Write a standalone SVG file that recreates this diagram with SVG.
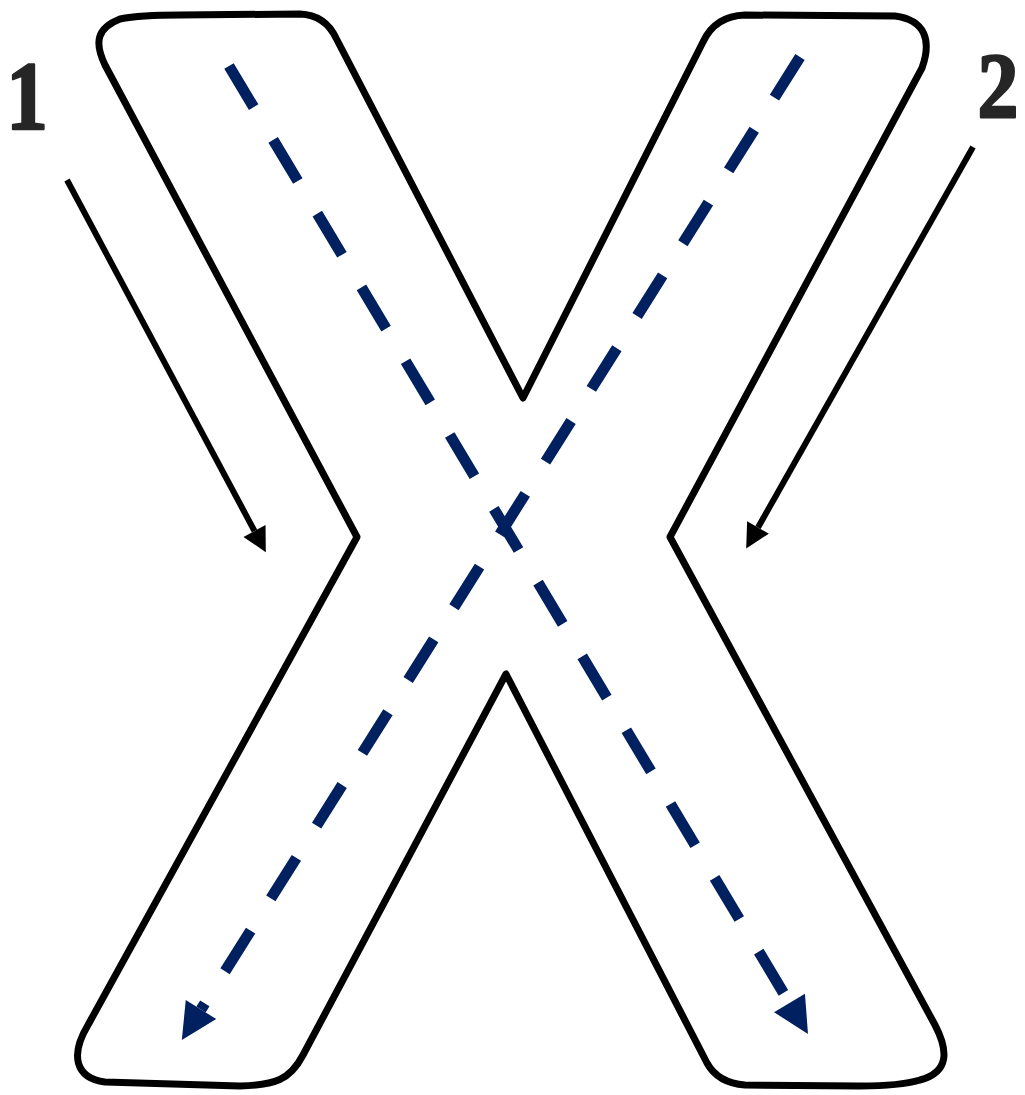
<svg xmlns="http://www.w3.org/2000/svg" width="1025" height="1095" viewBox="0 0 1025 1095">
  <style>
    .outline { fill: none; stroke: #000; stroke-width: 7; stroke-linejoin: round; }
    .dash { fill: none; stroke: #002060; stroke-width: 11; stroke-dasharray: 48 38; stroke-linecap: butt; }
    .pointer { fill: none; stroke: #000; stroke-width: 6; }
    .label { font-family: "Liberation Serif", "Times New Roman", serif; font-weight: bold; fill: #262626; stroke: #262626; stroke-width: 2.5; stroke-linejoin: round; text-anchor: middle; }
  </style>
  <defs>
    <marker id="blueHead" markerUnits="userSpaceOnUse" markerWidth="40" markerHeight="40" refX="0" refY="0" viewBox="0 -20 38 40" orient="auto" overflow="visible">
      <path d="M0,-18 L36,0 L0,18 Z" fill="#002060"/>
    </marker>
    <marker id="blackHead" markerUnits="userSpaceOnUse" markerWidth="28" markerHeight="28" refX="0" refY="0" viewBox="0 -14 26 28" orient="auto" overflow="visible">
      <path d="M0,-12.5 L24,0 L0,12.5 Z" fill="#000"/>
    </marker>
  </defs>
  <rect width="1025" height="1095" fill="#fff"/>
  <g id="letter-x">
    <path class="outline" d="M120,19 Q140,15 180,15 L300,14 Q325,15 336,38 L523,398 L703,42 Q715,16 745,15 L895,16 C925,20 932,40 922,68 L670,537 L935,1025 C948,1050 950,1072 920,1080 Q900,1086 860,1086 L745,1085 Q718,1083 707,1063 L506,674 L303,1055 C290,1080 275,1085 240,1086 L105,1082 C75,1078 70,1055 88,1025 L357,537 L105,65 C94,42 97,28 120,19 Z"/>
  </g>
  <g id="connectors">
    <line id="path-a" class="dash" x1="229" y1="66" x2="789.5" y2="1003" marker-end="url(#blueHead)"/>
    <line id="path-b" class="dash" x1="800" y1="57" x2="201" y2="1009.5" marker-end="url(#blueHead)"/>
    <line id="arrow-1" class="pointer" x1="67" y1="180" x2="254.5" y2="531" marker-end="url(#blackHead)"/>
    <line id="arrow-2" class="pointer" x1="973" y1="147" x2="758" y2="527.5" marker-end="url(#blackHead)"/>
  </g>
  <g id="label-1">
    <text class="label" transform="translate(27,129) scale(0.85,1)" font-size="98">1</text>
  </g>
  <g id="label-2">
    <text class="label" transform="translate(998,117) scale(0.88,1)" font-size="93">2</text>
  </g>
</svg>
